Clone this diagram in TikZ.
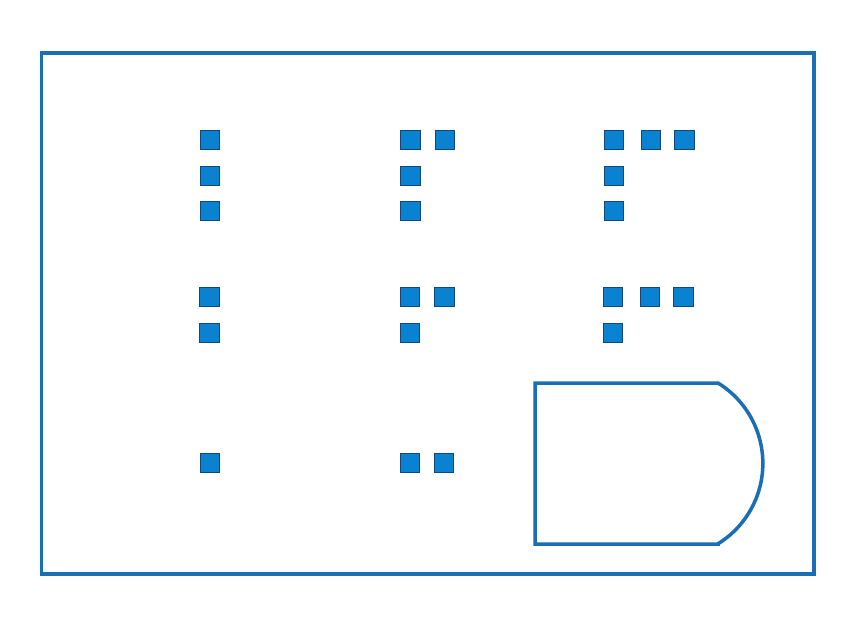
\documentclass[tikz,border=0pt]{standalone}
\definecolor{fillblue}{RGB}{10,130,210}
\definecolor{edgeblue}{RGB}{20,70,120}
\definecolor{lineblue}{RGB}{25,110,180}
\begin{document}
\begin{tikzpicture}[x=1pt,y=-1pt,
  sq/.style={draw=edgeblue,fill=fillblue,line width=0.8pt,minimum size=19.5pt,inner sep=0pt,rectangle},
  frame/.style={draw=lineblue,line width=3.5pt,line join=miter}]
\useasboundingbox (0,0) rectangle (866,630);
\fill[white] (0,0) rectangle (866,630);
\draw[frame] (41.5,53) rectangle (814,574);
% column 1
\node[sq] (a1) at (210,140) {};
\node[sq] (a2) at (210,176) {};
\node[sq] (a3) at (210,211) {};
\node[sq] (b1) at (209.5,297) {};
\node[sq] (b2) at (209.5,333) {};
\node[sq] (c1) at (210,463) {};
% column 2
\node[sq] (d1) at (410.5,140) {};
\node[sq] (d2) at (445,140) {};
\node[sq] (d3) at (410.5,176) {};
\node[sq] (d4) at (410.5,211) {};
\node[sq] (e1) at (410,297) {};
\node[sq] (e2) at (444.5,297) {};
\node[sq] (e3) at (410,333) {};
\node[sq] (f1) at (410,463) {};
\node[sq] (f2) at (444,463) {};
% column 3
\node[sq] (g1) at (614,140) {};
\node[sq] (g2) at (651,140) {};
\node[sq] (g3) at (684.5,140) {};
\node[sq] (g4) at (614,176) {};
\node[sq] (g5) at (614,211) {};
\node[sq] (h1) at (613,297) {};
\node[sq] (h2) at (650,297) {};
\node[sq] (h3) at (683.5,297) {};
\node[sq] (h4) at (613,333) {};
% D-shaped outline
\draw[frame] (718,544) -- (535,544) -- (535,383) -- (718,383)
  arc[start angle=-58.3, end angle=58.3, radius=94.5] -- cycle;
\end{tikzpicture}
\end{document}
